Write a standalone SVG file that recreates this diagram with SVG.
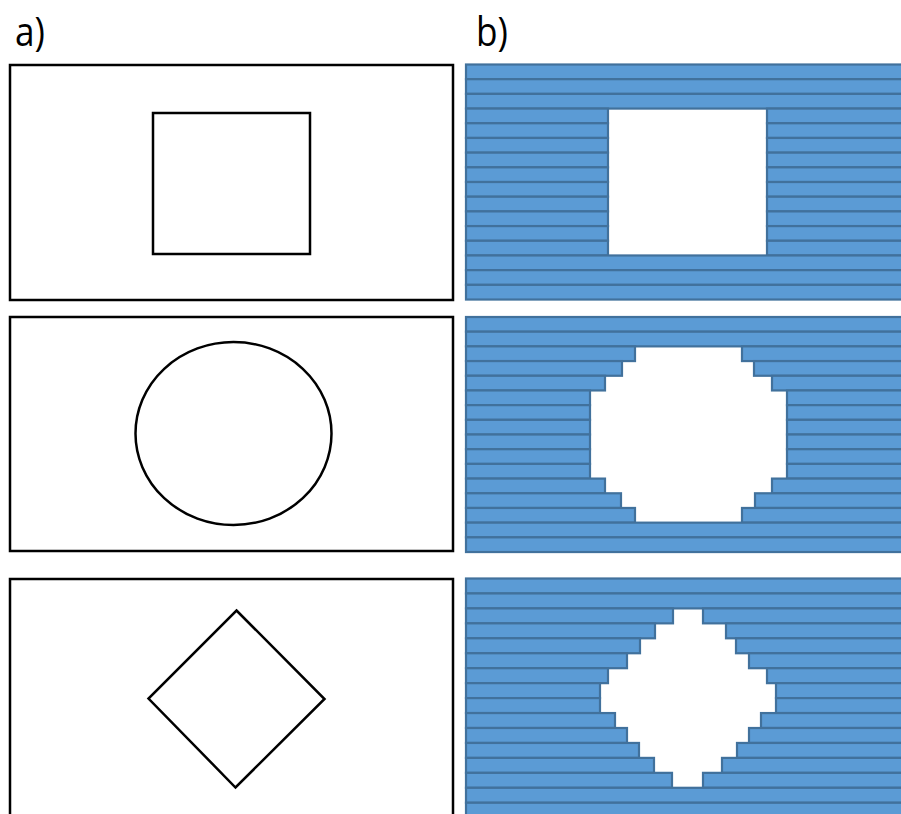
<svg xmlns="http://www.w3.org/2000/svg" width="901" height="814" viewBox="0 0 901 814">
  <style>
    .frame { fill: #ffffff; stroke: #000000; stroke-width: 2.5; }
    .shape { fill: none; stroke: #000000; stroke-width: 2.5; stroke-linejoin: miter; }
    .strip rect { fill: #5b9bd5; stroke: #41719c; stroke-width: 2.2; }
    .label { font-family: "Open Sans", "Liberation Sans", sans-serif; font-size: 40px; fill: #000000; }
  </style>
  <rect width="901" height="814" fill="#ffffff"/>

  <text class="label" transform="translate(15 46) scale(0.88 1)">a)</text>
  <text class="label" transform="translate(476 46) scale(0.88 1)">b)</text>

  <!-- column a: continuous outlines -->
  <g id="a-square">
    <rect class="frame" x="10" y="65" width="443" height="235"/>
    <rect class="shape" x="153" y="113" width="157" height="141"/>
  </g>
  <g id="a-circle">
    <rect class="frame" x="10" y="317" width="443" height="234"/>
    <ellipse class="shape" cx="233.5" cy="433.5" rx="98" ry="91.5"/>
  </g>
  <g id="a-diamond">
    <rect class="frame" x="10" y="579" width="443" height="250"/>
    <polygon class="shape" points="236.5,610.5 324.5,699 235.5,787.5 148.5,698.5"/>
  </g>

  <!-- column b: horizontal strips with a stepped opening -->
  <g id="b-square" class="strip">
    <rect x="466" y="64.5" width="450" height="14.69"/>
    <rect x="466" y="79.19" width="450" height="14.69"/>
    <rect x="466" y="93.88" width="450" height="14.69"/>
    <rect x="466" y="108.57" width="142" height="14.69"/><rect x="767" y="108.57" width="150" height="14.69"/>
    <rect x="466" y="123.26" width="142" height="14.69"/><rect x="767" y="123.26" width="150" height="14.69"/>
    <rect x="466" y="137.95" width="142" height="14.69"/><rect x="767" y="137.95" width="150" height="14.69"/>
    <rect x="466" y="152.64" width="142" height="14.69"/><rect x="767" y="152.64" width="150" height="14.69"/>
    <rect x="466" y="167.33" width="142" height="14.69"/><rect x="767" y="167.33" width="150" height="14.69"/>
    <rect x="466" y="182.02" width="142" height="14.69"/><rect x="767" y="182.02" width="150" height="14.69"/>
    <rect x="466" y="196.71" width="142" height="14.69"/><rect x="767" y="196.71" width="150" height="14.69"/>
    <rect x="466" y="211.4" width="142" height="14.69"/><rect x="767" y="211.4" width="150" height="14.69"/>
    <rect x="466" y="226.09" width="142" height="14.69"/><rect x="767" y="226.09" width="150" height="14.69"/>
    <rect x="466" y="240.78" width="142" height="14.69"/><rect x="767" y="240.78" width="150" height="14.69"/>
    <rect x="466" y="255.47" width="450" height="14.69"/>
    <rect x="466" y="270.16" width="450" height="14.69"/>
    <rect x="466" y="284.85" width="450" height="14.69"/>
  </g>

  <g id="b-circle" class="strip">
    <rect x="466" y="317" width="450" height="14.69"/>
    <rect x="466" y="331.69" width="450" height="14.69"/>
    <rect x="466" y="346.38" width="169" height="14.69"/><rect x="742" y="346.38" width="175" height="14.69"/>
    <rect x="466" y="361.07" width="156" height="14.69"/><rect x="754" y="361.07" width="163" height="14.69"/>
    <rect x="466" y="375.76" width="139" height="14.69"/><rect x="772" y="375.76" width="145" height="14.69"/>
    <rect x="466" y="390.45" width="124" height="14.69"/><rect x="787" y="390.45" width="130" height="14.69"/>
    <rect x="466" y="405.14" width="124" height="14.69"/><rect x="787" y="405.14" width="130" height="14.69"/>
    <rect x="466" y="419.83" width="124" height="14.69"/><rect x="787" y="419.83" width="130" height="14.69"/>
    <rect x="466" y="434.52" width="124" height="14.69"/><rect x="787" y="434.52" width="130" height="14.69"/>
    <rect x="466" y="449.21" width="124" height="14.69"/><rect x="787" y="449.21" width="130" height="14.69"/>
    <rect x="466" y="463.9" width="124" height="14.69"/><rect x="787" y="463.9" width="130" height="14.69"/>
    <rect x="466" y="478.59" width="139" height="14.69"/><rect x="772" y="478.59" width="145" height="14.69"/>
    <rect x="466" y="493.28" width="155" height="14.69"/><rect x="755" y="493.28" width="162" height="14.69"/>
    <rect x="466" y="507.97" width="169" height="14.69"/><rect x="742" y="507.97" width="175" height="14.69"/>
    <rect x="466" y="522.66" width="450" height="14.69"/>
    <rect x="466" y="537.35" width="450" height="14.69"/>
  </g>

  <g id="b-diamond" class="strip">
    <rect x="466" y="578.5" width="450" height="14.95"/>
    <rect x="466" y="593.45" width="450" height="14.95"/>
    <rect x="466" y="608.4" width="207" height="14.95"/><rect x="703" y="608.4" width="214" height="14.95"/>
    <rect x="466" y="623.35" width="189" height="14.95"/><rect x="726" y="623.35" width="191" height="14.95"/>
    <rect x="466" y="638.3" width="174" height="14.95"/><rect x="736" y="638.3" width="181" height="14.95"/>
    <rect x="466" y="653.25" width="161" height="14.95"/><rect x="749" y="653.25" width="168" height="14.95"/>
    <rect x="466" y="668.2" width="142" height="14.95"/><rect x="767" y="668.2" width="150" height="14.95"/>
    <rect x="466" y="683.15" width="134" height="14.95"/><rect x="776" y="683.15" width="141" height="14.95"/>
    <rect x="466" y="698.1" width="134" height="14.95"/><rect x="776" y="698.1" width="141" height="14.95"/>
    <rect x="466" y="713.05" width="149" height="14.95"/><rect x="761" y="713.05" width="156" height="14.95"/>
    <rect x="466" y="728" width="161" height="14.95"/><rect x="749" y="728" width="168" height="14.95"/>
    <rect x="466" y="742.95" width="173" height="14.95"/><rect x="737" y="742.95" width="180" height="14.95"/>
    <rect x="466" y="757.9" width="188" height="14.95"/><rect x="722" y="757.9" width="195" height="14.95"/>
    <rect x="466" y="772.85" width="206" height="14.95"/><rect x="703" y="772.85" width="214" height="14.95"/>
    <rect x="466" y="787.8" width="450" height="14.95"/>
    <rect x="466" y="802.75" width="450" height="14.95"/>
  </g>
</svg>
